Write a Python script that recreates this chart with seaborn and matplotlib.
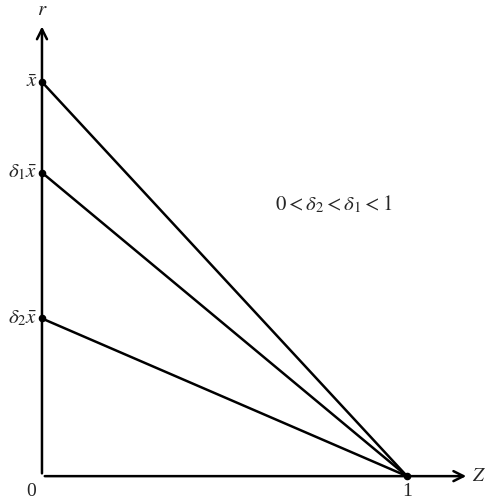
import matplotlib
matplotlib.use("Agg")
import matplotlib.pyplot as plt
import seaborn as sns
import pandas as pd

sns.set_theme(style="white")
plt.rcParams["font.family"] = ["DejaVu Serif"]
plt.rcParams["mathtext.fontset"] = "stix"

# Intercepts on the r-axis as fractions of x-bar; all lines meet at Z = 1
xbar = 1.0
deltas = [1.0, 0.77, 0.40]
tick_labels = [r"$\bar{x}$", r"$\delta_1\bar{x}$", r"$\delta_2\bar{x}$"]
z_end = 1.0

rows = []
for i, d in enumerate(deltas):
    rows.append({"line": i, "Z": 0.0, "r": d * xbar})
    rows.append({"line": i, "Z": z_end, "r": 0.0})
df = pd.DataFrame(rows)

fig = plt.figure(figsize=(4.88, 4.99), dpi=100)
ax = fig.add_axes([0, 0, 1, 1])
ax.set_xlim(-0.115, 1.222)
ax.set_ylim(-0.058, 1.208)
ax.axis("off")

sns.lineplot(data=df, x="Z", y="r", units="line", estimator=None,
             color="black", lw=1.8, ax=ax, legend=False)

# axes with arrows
arrow = dict(arrowstyle="->", lw=1.8, color="black", mutation_scale=18)
ax.annotate("", xy=(0, 1.148), xytext=(0, 0), arrowprops=arrow)
ax.annotate("", xy=(1.17, 0), xytext=(0, 0), arrowprops=arrow)

# intercept points
ax.scatter([0] * len(deltas) + [z_end], [d * xbar for d in deltas] + [0],
           s=20, color="black", zorder=5)

for d, lab in zip(deltas, tick_labels):
    ax.text(-0.012, d * xbar, lab, ha="right", va="center", fontsize=15)

ax.text(-0.03, -0.018, "0", ha="center", va="top", fontsize=14,
        family="Liberation Serif")
ax.text(z_end, -0.018, "1", ha="center", va="top", fontsize=14,
        family="Liberation Serif")
ax.text(1.178, 0, "$Z$", ha="left", va="center", fontsize=14)
ax.text(0, 1.16, "$r$", ha="center", va="bottom", fontsize=15)
ax.text(0.80, 0.69, r"$0<\delta_2<\delta_1<1$", ha="center", va="center",
        fontsize=15)

fig.savefig("out.png", dpi=100)
